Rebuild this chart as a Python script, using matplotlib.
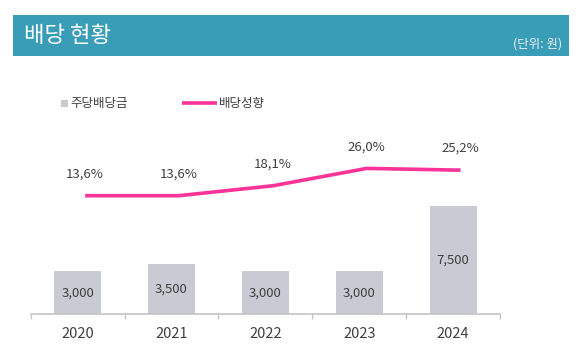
import numpy as np
import matplotlib as mpl
mpl.use('Agg')
import matplotlib.pyplot as plt
from matplotlib.patches import Rectangle
from matplotlib.lines import Line2D

plt.rcParams['font.family'] = ['Noto Sans CJK KR', 'DejaVu Sans']

years = ['2020', '2021', '2022', '2023', '2024']
dividend = [3000, 3500, 3000, 3000, 7500]       # 주당배당금 (원)
payout = [13.6, 13.6, 18.1, 26.0, 25.2]          # 배당성향 (%)

barColor = '#C9CBD4'
lineColor = '#FA3399'
bannerColor = '#3A9DB8'
textColor = '#3F3F3F'
axisColor = '#C4C4C4'

W, H = 585, 351
fig = plt.figure(figsize=(W / 100, H / 100), dpi=100)

def px(x, y, w, h):
	#pixel box (from top-left) -> figure fraction
	return [x / W, 1 - (y + h) / H, w / W, h / H]

#header banner
fig.patches.append(Rectangle((12.7 / W, 1 - 55.7 / H), (569 - 12.7) / W, 41 / H,
	transform=fig.transFigure, facecolor=bannerColor, edgecolor='none', zorder=0))
fig.text(24 / W, 1 - 36 / H, '배당 현황', color='white', fontsize=16, va='center', ha='left')
fig.text(562 / W, 1 - 44.5 / H, '(단위: 원)', color='#E8F2F6', fontsize=9, va='center', ha='right')

#legend
fig.patches.append(Rectangle((61 / W, 1 - 107 / H), 7 / W, 7 / H,
	transform=fig.transFigure, facecolor=barColor, edgecolor='none'))
fig.text(70.5 / W, 1 - 103.6 / H, '주당배당금', color=textColor, fontsize=9, va='center', ha='left')
fig.lines.append(Line2D([182 / W, 216.5 / W], [1 - 103.3 / H, 1 - 103.3 / H],
	transform=fig.transFigure, color=lineColor, lw=2.6, solid_capstyle='butt'))
fig.text(218.5 / W, 1 - 103.6 / H, '배당성향', color=textColor, fontsize=9, va='center', ha='left')

#main axes
ax = fig.add_axes(px(30.7, 130, 469.3, 184.3))
x = np.arange(len(years))
ax.bar(x, dividend, width=0.5, color=barColor, zorder=2)
ax.set_xlim(-0.5, len(years) - 0.5)
ax.set_ylim(0, 12770)

for i, v in enumerate(dividend):
	ax.text(i, v / 2, '{:,}'.format(v), ha='center', va='center', fontsize=9.5, color=textColor, zorder=3)

for s in ['top', 'right', 'left']:
	ax.spines[s].set_visible(False)
ax.spines['bottom'].set_color(axisColor)
ax.spines['bottom'].set_linewidth(1.2)
ax.set_yticks([])
ax.set_xticks(np.arange(-0.5, len(years)), minor=True)
ax.tick_params(axis='x', which='minor', length=3.5, color=axisColor, width=1)
ax.set_xticks(x)
ax.set_xticklabels([])
ax.tick_params(axis='x', which='major', length=0)

for i, yr in enumerate(years):
	ax.annotate(yr, xy=(i, 0), xycoords=('data', 'axes fraction'), xytext=(0, -14),
		textcoords='offset points', ha='center', va='center', fontsize=10.5, color=textColor)

#payout ratio line
ax2 = ax.twinx()
ax2.set_ylim(-40.32, 43.45)
ax2.axis('off')
lx = x + 0.08
ax2.plot(lx, payout, color=lineColor, lw=2.6, solid_capstyle='butt', zorder=4)
for xi, p in zip(lx, payout):
	ax2.annotate(('%.1f%%' % p).replace('.', ','), xy=(xi, p), xytext=(0, 15.6), textcoords='offset points',
		ha='center', va='center', fontsize=9.5, color=textColor)

plt.savefig('out.png', dpi=100)
